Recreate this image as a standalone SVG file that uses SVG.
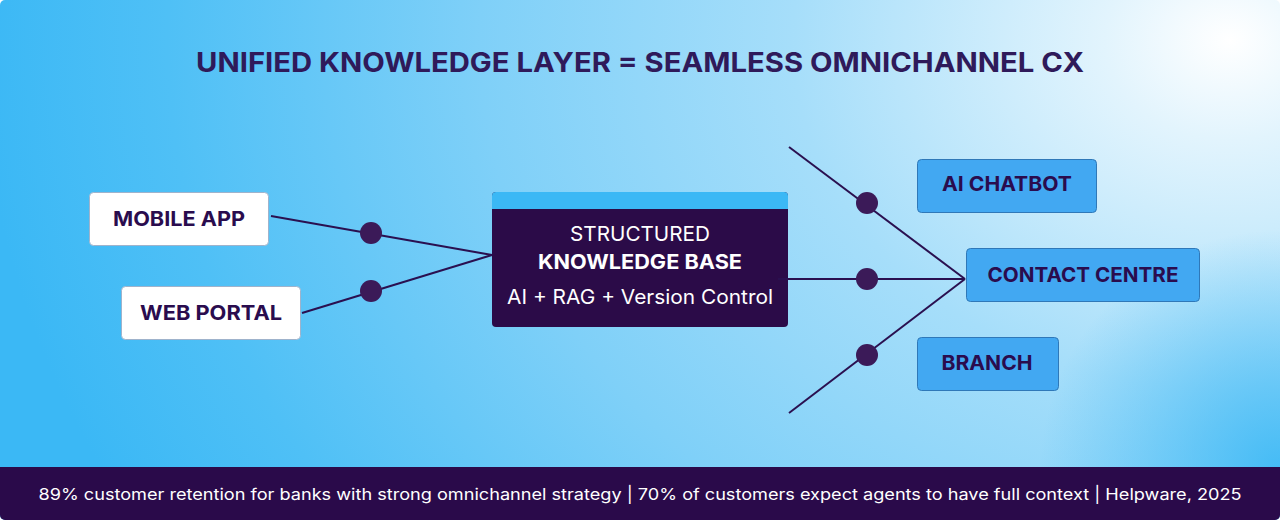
<svg xmlns="http://www.w3.org/2000/svg" width="1280" height="520" viewBox="0 0 1280 520">
  <defs>
    <radialGradient id="bg" cx="1230" cy="40" r="1250" gradientUnits="userSpaceOnUse" gradientTransform="translate(1230 40) scale(1 0.8) translate(-1230 -40)">
      <stop offset="0" stop-color="#ffffff"/>
      <stop offset="0.1" stop-color="#e2f4fd"/>
      <stop offset="0.35" stop-color="#a6defa"/>
      <stop offset="0.6" stop-color="#7fd0f8"/>
      <stop offset="0.85" stop-color="#4fc0f6"/>
      <stop offset="1" stop-color="#3bb8f5"/>
    </radialGradient>
    <radialGradient id="br" cx="1280" cy="470" r="240" gradientUnits="userSpaceOnUse">
      <stop offset="0" stop-color="#3bb8f5" stop-opacity="0.9"/>
      <stop offset="1" stop-color="#3bb8f5" stop-opacity="0"/>
    </radialGradient>
    <clipPath id="card"><rect x="0" y="0" width="1280" height="520" rx="5"/></clipPath>
    <style>
      .src rect{fill:#ffffff;stroke:#9fb3cc;stroke-width:1}
      .out rect{fill:#42a8f2;stroke:#2f78b8;stroke-width:1}
      .lbl{font-family:"Inter","Liberation Sans",sans-serif;font-weight:700;font-size:20px;fill:#2a0c4e;text-anchor:middle}
      .conn line{stroke:#2a1050;stroke-width:2}
      .conn circle{fill:#3b1a58}
      .w{font-family:"Inter","Liberation Sans",sans-serif;fill:#ffffff;text-anchor:middle;font-size:20px}
    </style>
  </defs>
  <g clip-path="url(#card)">
    <rect x="0" y="0" width="1280" height="520" fill="url(#bg)"/>
    <rect x="0" y="0" width="1280" height="520" fill="url(#br)"/>
    <rect x="0" y="467" width="1280" height="53" fill="#2a0a4a"/>
  </g>
  <text x="640" y="72" text-anchor="middle" font-family="Inter, 'Liberation Sans', sans-serif" font-weight="700" font-size="27" fill="#2f1a5a" textLength="888" lengthAdjust="spacingAndGlyphs">UNIFIED KNOWLEDGE LAYER = SEAMLESS OMNICHANNEL CX</text>

  <g id="mobile-app" class="src">
    <rect x="89.5" y="192.5" width="179" height="53" rx="4"/>
    <text class="lbl" x="179" y="226" textLength="132" lengthAdjust="spacingAndGlyphs">MOBILE APP</text>
  </g>
  <g id="web-portal" class="src">
    <rect x="121.5" y="286.5" width="179" height="53" rx="4"/>
    <text class="lbl" x="211" y="320" textLength="142" lengthAdjust="spacingAndGlyphs">WEB PORTAL</text>
  </g>

  <g id="knowledge-base">
    <rect x="492" y="192" width="296" height="135" rx="4" fill="#2b0b48"/>
    <path d="M496 192 H784 A4 4 0 0 1 788 196 V209 H492 V196 A4 4 0 0 1 496 192 Z" fill="#3bb8f5"/>
    <text class="w" x="640" y="241" textLength="140" lengthAdjust="spacingAndGlyphs">STRUCTURED</text>
    <text class="w" x="640" y="269" font-weight="700" textLength="204" lengthAdjust="spacingAndGlyphs">KNOWLEDGE BASE</text>
    <text class="w" x="640" y="304" textLength="266" lengthAdjust="spacingAndGlyphs">AI + RAG + Version Control</text>
  </g>

  <g id="ai-chatbot" class="out">
    <rect x="917.5" y="159.5" width="179" height="53" rx="4"/>
    <text class="lbl" x="1007" y="191" textLength="130" lengthAdjust="spacingAndGlyphs">AI CHATBOT</text>
  </g>
  <g id="contact-centre" class="out">
    <rect x="966.5" y="248.5" width="233" height="53" rx="4"/>
    <text class="lbl" x="1083" y="282" textLength="191" lengthAdjust="spacingAndGlyphs">CONTACT CENTRE</text>
  </g>
  <g id="branch" class="out">
    <rect x="917.5" y="337.5" width="141" height="53" rx="4"/>
    <text class="lbl" x="987" y="370" textLength="91" lengthAdjust="spacingAndGlyphs">BRANCH</text>
  </g>

  <g id="connectors" class="conn">
    <line x1="271" y1="216" x2="492" y2="255"/>
    <line x1="302" y1="313" x2="492" y2="255"/>
    <line x1="778" y1="279" x2="965" y2="279"/>
    <line x1="789" y1="147" x2="965" y2="279"/>
    <line x1="789" y1="413" x2="965" y2="279"/>
    <circle cx="371" cy="233" r="11"/>
    <circle cx="371" cy="291" r="11"/>
    <circle cx="867" cy="203" r="11"/>
    <circle cx="867" cy="279" r="11"/>
    <circle cx="867" cy="355" r="11"/>
  </g>

  <text x="640" y="500" text-anchor="middle" font-family="Inter, 'Liberation Sans', sans-serif" font-size="16" fill="#ffffff" textLength="1203" lengthAdjust="spacingAndGlyphs">89% customer retention for banks with strong omnichannel strategy | 70% of customers expect agents to have full context | Helpware, 2025</text>
</svg>
